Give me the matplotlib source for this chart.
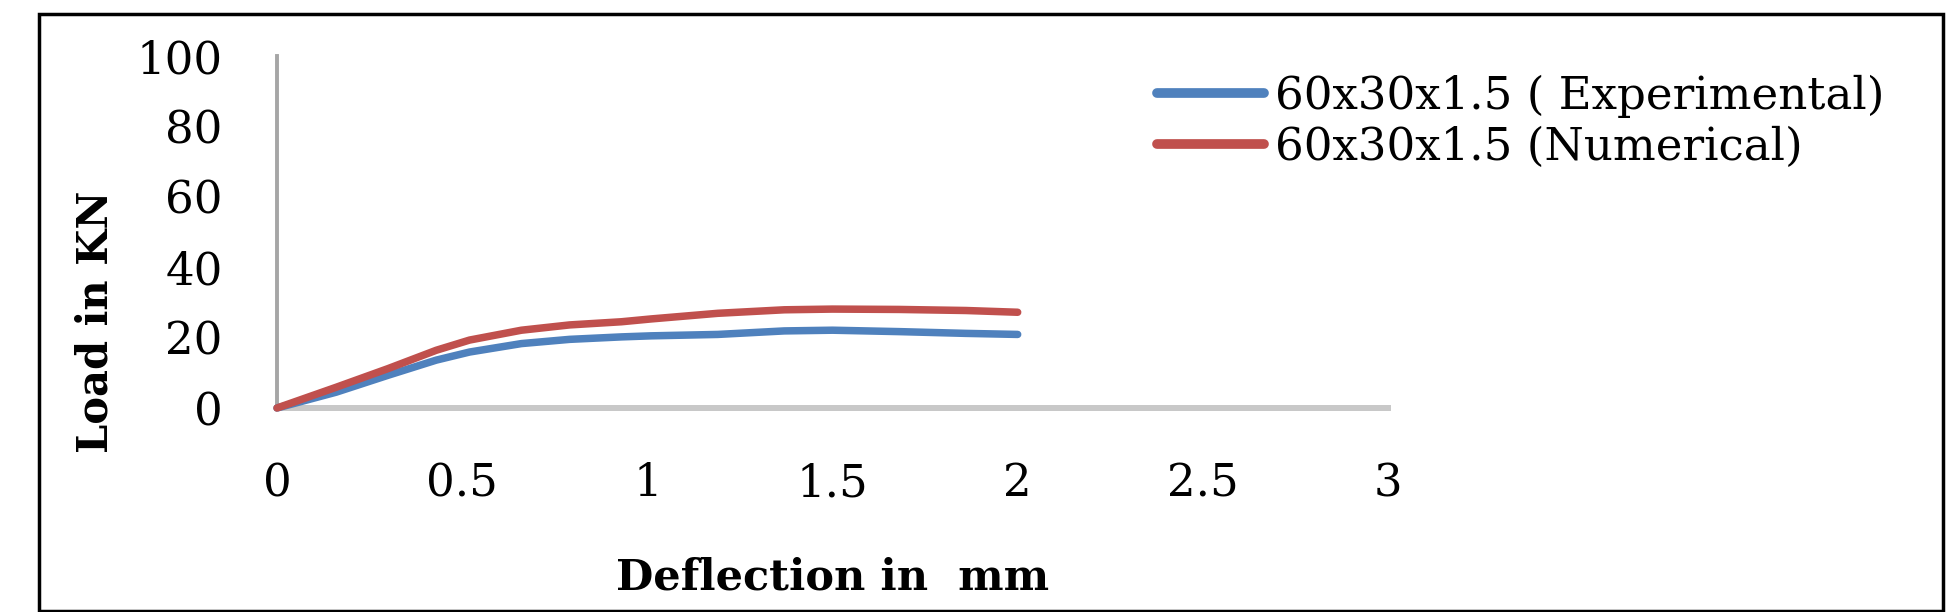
import matplotlib
matplotlib.use('Agg')
import matplotlib.pyplot as plt
from matplotlib.patches import Rectangle
from matplotlib.lines import Line2D

# values
deflection = [0, 0.16, 0.30, 0.43, 0.52, 0.66, 0.79, 0.93, 1.01, 1.19, 1.37, 1.50, 1.68, 1.86, 2.0]
load_experimental = [0, 4.5, 9.3, 13.6, 15.9, 18.3, 19.5, 20.2, 20.5, 20.9, 21.9, 22.1, 21.7, 21.2, 20.9]
load_numerical = [0, 5.9, 11.2, 16.4, 19.3, 22.1, 23.6, 24.5, 25.3, 26.9, 27.9, 28.1, 28.0, 27.7, 27.2]

x_ticks = [0, 0.5, 1, 1.5, 2, 2.5, 3]
x_tick_labels = ['0', '0.5', '1', '1.5', '2', '2.5', '3']
y_ticks = [0, 20, 40, 60, 80, 100]

series_labels = ['60x30x1.5 ( Experimental)', '60x30x1.5 (Numerical)']
series_colors = ['#4F81BD', '#C0504D']

W, H = 1959, 612
plt.rcParams['font.family'] = ['DejaVu Serif']

fig = plt.figure(figsize=(W / 100, H / 100), dpi=100)
ax = fig.add_axes([277 / W, (H - 408) / H, (1388 - 277) / W, (408 - 56) / H])

for loads, color in zip([load_experimental, load_numerical], series_colors):
    ax.plot(deflection, loads, color=color, lw=5.4, solid_capstyle='round',
            zorder=3, clip_on=False)

ax.set_xlim(0, 3)
ax.set_ylim(0, 100)
ax.set_xticks(x_ticks)
ax.set_xticklabels(x_tick_labels)
ax.set_yticks(y_ticks)
ax.tick_params(length=0, labelsize=32.5, pad=39, colors='black')

for side in ['top', 'right']:
    ax.spines[side].set_visible(False)
ax.spines['left'].set_color('#A6A6A6')
ax.spines['left'].set_linewidth(2.8)
ax.spines['bottom'].set_color('#C8C8C8')
ax.spines['bottom'].set_linewidth(4.3)

fig.text(833 / W, 1 - 578 / H, 'Deflection in  mm', fontsize=31, fontweight='bold',
         ha='center', va='center')
fig.text(95 / W, 1 - 322 / H, 'Load in KN', fontsize=30, fontweight='bold',
         rotation=90, ha='center', va='center')

# legend drawn by hand: two rows, 51 px apart
for i, (lab, color) in enumerate(zip(series_labels, series_colors)):
    yc = 1 - (92.5 + 51 * i) / H
    fig.add_artist(Line2D([1157 / W, 1264 / W], [yc, yc], transform=fig.transFigure,
                          color=color, lw=7, solid_capstyle='round'))
    fig.text(1275 / W, 1 - (108.5 + 51 * i) / H, lab, fontsize=32.5,
             ha='left', va='baseline')

# outer black frame
fig.patches.append(Rectangle((39 / W, 1.5 / H), (1943 - 39) / W, (611 - 14) / H,
                             transform=fig.transFigure, fill=False, lw=2.5,
                             ec='black'))

fig.savefig('out.png', dpi=100)
